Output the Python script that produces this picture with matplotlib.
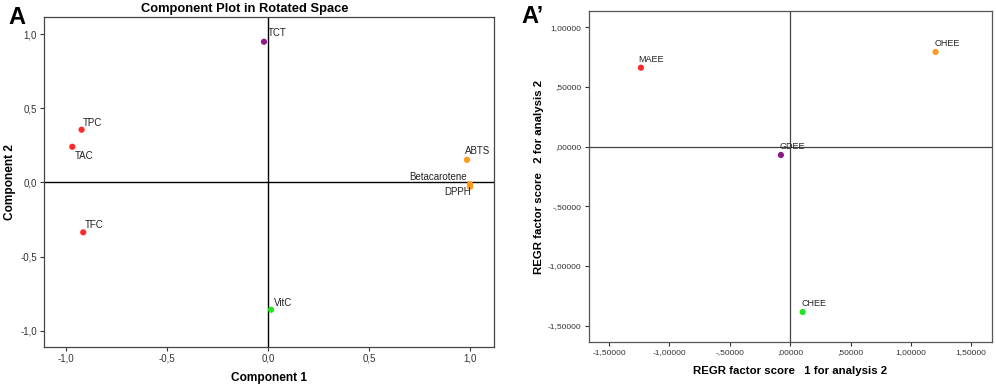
import numpy as np
import matplotlib
matplotlib.use('Agg')
import matplotlib.pyplot as plt

plt.rcParams['font.family'] = ['Liberation Sans', 'DejaVu Sans']

# panel A: component loadings
comp_names = ['TCT', 'TPC', 'TAC', 'ABTS', 'Betacarotene', 'DPPH', 'TFC', 'VitC']
comp1 = [-0.02, -0.923, -0.969, 0.985, 1.0, 1.0, -0.915, 0.015]
comp2 = [0.948, 0.355, 0.240, 0.152, -0.012, -0.030, -0.337, -0.859]
comp_colors = ['#8e1a86', '#ff2b2b', '#ff2b2b', '#ff9a1a', '#ff9a1a', '#ff9a1a', '#ff2b2b', '#22e622']
a_ticks = [-1.0, -0.5, 0.0, 0.5, 1.0]
a_ticklabels = ['-1,0', '-0,5', '0,0', '0,5', '1,0']

# panel A': factor scores
ext_names = ['MAEE', 'OHEE', 'GDEE', 'CHEE']
score1 = [-1.237, 1.205, -0.077, 0.103]
score2 = [0.662, 0.794, -0.070, -1.386]
ext_colors = ['#ff2b2b', '#ff9a1a', '#8e1a86', '#22e622']
b_xticks = [-1.5, -1.0, -0.5, 0.0, 0.5, 1.0, 1.5]
b_xticklabels = ['-1,50000', '-1,00000', '-,50000', ',00000', ',50000', '1,00000', '1,50000']
b_yticks = [-1.5, -1.0, -0.5, 0.0, 0.5, 1.0]
b_yticklabels = ['-1,50000', '-1,00000', '-,50000', ',00000', ',50000', '1,00000']

# label offsets in points (dx, dy, ha)
a_offsets = {'TCT': (3, 6, 'left'), 'TPC': (1, 5, 'left'), 'TAC': (2, -6.5, 'left'),
             'ABTS': (-1.5, 6, 'left'), 'Betacarotene': (-2.4, 5, 'right'),
             'DPPH': (0.8, -4, 'right'), 'TFC': (1, 5, 'left'), 'VitC': (2, 5, 'left')}
b_offsets = {'MAEE': (-2, 6, 'left'), 'OHEE': (-0.5, 6, 'left'),
             'GDEE': (-1, 6, 'left'), 'CHEE': (-1, 6, 'left')}

fig = plt.figure(figsize=(9.96, 3.87), dpi=100)

# ---- panel A
ax1 = fig.add_axes([0.0442, 0.1034, 0.4518, 0.8527])
ax1.axhline(0, color='black', lw=1.0, zorder=1)
ax1.axvline(0, color='black', lw=1.0, zorder=1)
ax1.scatter(comp1, comp2, c=comp_colors, s=20, zorder=3, edgecolors='none')
for name, x, y in zip(comp_names, comp1, comp2):
	dx, dy, ha = a_offsets[name]
	ax1.annotate(name, (x, y), xytext=(dx, dy), textcoords='offset points',
				 fontsize=7, ha=ha, va='center', color='#222222', zorder=4)
ax1.set_xlim(-1.109, 1.119)
ax1.set_ylim(-1.11, 1.115)
ax1.set_xticks(a_ticks)
ax1.set_xticklabels(a_ticklabels)
ax1.set_yticks(a_ticks)
ax1.set_yticklabels(a_ticklabels)
ax1.tick_params(labelsize=7, length=3, width=0.8, colors='#333333', pad=2)
for sp in ax1.spines.values():
	sp.set_color('#444444')
	sp.set_linewidth(0.9)
ax1.set_xlabel('Component 1', fontsize=8.6, fontweight='bold')
ax1.set_ylabel('Component 2', fontsize=8.6, fontweight='bold')
ax1.xaxis.set_label_coords(0.5, -0.076)
ax1.yaxis.set_label_coords(-0.062, 0.5)
fig.text(0.246, 0.978, 'Component Plot in Rotated Space', fontsize=9.3,
		 fontweight='bold', ha='center', va='center')
fig.text(0.008, 0.955, 'A', fontsize=17, fontweight='bold', ha='left', va='center')

# ---- panel A'
ax2 = fig.add_axes([0.591, 0.1155, 0.4046, 0.857])
ax2.axhline(0, color='#444444', lw=0.9, zorder=1)
ax2.axvline(0, color='#444444', lw=0.9, zorder=1)
ax2.scatter(score1, score2, c=ext_colors, s=20, zorder=3, edgecolors='none')
for name, x, y in zip(ext_names, score1, score2):
	dx, dy, ha = b_offsets[name]
	ax2.annotate(name, (x, y), xytext=(dx, dy), textcoords='offset points',
				 fontsize=6.5, ha=ha, va='center', color='#222222', zorder=4)
ax2.set_xlim(-1.67, 1.669)
ax2.set_ylim(-1.64, 1.14)
ax2.set_xticks(b_xticks)
ax2.set_xticklabels(b_xticklabels)
ax2.set_yticks(b_yticks)
ax2.set_yticklabels(b_yticklabels)
ax2.tick_params(labelsize=6, length=3, width=0.8, colors='#333333', pad=2)
for sp in ax2.spines.values():
	sp.set_color('#555555')
	sp.set_linewidth(0.9)
ax2.set_xlabel('REGR factor score   1 for analysis 2', fontsize=8.2, fontweight='bold')
ax2.set_ylabel('REGR factor score   2 for analysis 2', fontsize=8.2, fontweight='bold')
ax2.xaxis.set_label_coords(0.5, -0.072)
ax2.yaxis.set_label_coords(-0.111, 0.5)
fig.text(0.524, 0.958, 'A\u2019', fontsize=17, fontweight='bold', ha='left', va='center')

fig.savefig('out.png', dpi=100)
